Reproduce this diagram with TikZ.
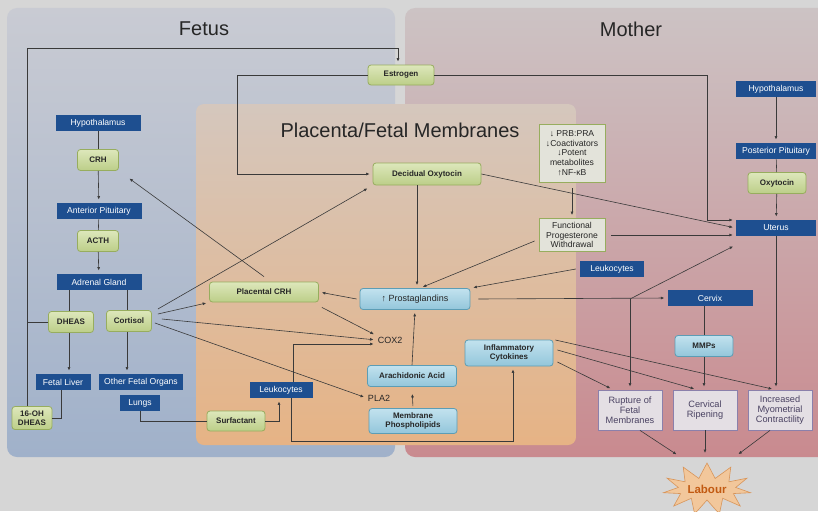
\documentclass[tikz,border=0pt]{standalone}
\usepackage{fontspec}
\setmainfont{Liberation Sans}
\usetikzlibrary{arrows.meta,shapes.symbols}
\definecolor{BgBase}{HTML}{D6D6D6}
\definecolor{FetusTop}{HTML}{C9CBD3}
\definecolor{FetusBot}{HTML}{A0B1CA}
\definecolor{MotherTop}{HTML}{CCC3C4}
\definecolor{MotherBot}{HTML}{C98A8F}
\definecolor{PlacTop}{HTML}{D5C7BD}
\definecolor{PlacBot}{HTML}{E6B385}
\definecolor{BoxBlue}{HTML}{1E4F90}
\definecolor{GreenTop}{HTML}{DDE7BB}
\definecolor{GreenBot}{HTML}{BCCE88}
\definecolor{GreenEdge}{HTML}{97AD5E}
\definecolor{CyanTop}{HTML}{C2E2EE}
\definecolor{CyanBot}{HTML}{93C6DB}
\definecolor{CyanEdge}{HTML}{5C9DB5}
\definecolor{NoteFill}{HTML}{E3E3DA}
\definecolor{OutFill}{HTML}{E4DFE4}
\definecolor{OutEdge}{HTML}{8B80AB}
\definecolor{OutText}{HTML}{4A4262}
\definecolor{TextDark}{HTML}{262626}
\definecolor{LineDark}{HTML}{3A3A3A}
\definecolor{StarFill}{HTML}{F2C79B}
\definecolor{StarEdge}{HTML}{D8955A}
\definecolor{StarText}{HTML}{C25A12}

\begin{document}
\begin{tikzpicture}[x=1pt, y=-1pt,
  lbl/.style={font=\fontsize{8.6}{9.6}\selectfont, align=center, inner sep=1pt, text=TextDark},
  bluebox/.style={lbl, fill=BoxBlue, text=white, minimum height=16.5pt},
  greenbox/.style={lbl, font=\fontsize{8}{9.2}\selectfont\bfseries, rounded corners=3pt,
    top color=GreenTop, bottom color=GreenBot, draw=GreenEdge, line width=0.8pt, minimum height=21pt},
  cyanbox/.style={lbl, font=\fontsize{8}{9.2}\selectfont\bfseries, rounded corners=3pt,
    top color=CyanTop, bottom color=CyanBot, draw=CyanEdge, line width=0.8pt, minimum height=21pt},
  notebox/.style={lbl, fill=NoteFill, draw=GreenEdge, line width=0.8pt, minimum width=66pt},
  outbox/.style={lbl, font=\fontsize{9.2}{10.2}\selectfont, fill=OutFill, draw=OutEdge, line width=0.8pt,
    text=OutText, minimum width=64pt, minimum height=40pt},
  arr/.style={draw=LineDark, line width=0.6pt, -{Latex[length=3.5pt,width=3pt]}, shorten >=3pt},
  ln/.style={draw=LineDark, line width=0.6pt}
]

  % Hintergrund und Bereiche
  \clip (0,0) rectangle (818,511);
  \fill[BgBase] (0,0) rectangle (818,511);
  \shade[top color=FetusTop, bottom color=FetusBot, rounded corners=10pt] (7,8) rectangle (395,457);
  \shade[top color=MotherTop, bottom color=MotherBot, rounded corners=10pt] (405,8) rectangle (830,457);
  \shade[top color=PlacTop, bottom color=PlacBot, rounded corners=8pt] (196,104) rectangle (576,445);

  % Titel
  \node[font=\fontsize{20}{22}\selectfont, text=TextDark] (tFetus) at (204,29) {Fetus};
  \node[font=\fontsize{20}{22}\selectfont, text=TextDark] (tMother) at (631,29) {Mother};
  \node[font=\fontsize{20}{22}\selectfont, text=TextDark] (tPlac) at (400,130) {Placenta/Fetal Membranes};

  % Fetus: Achse
  \node[bluebox, minimum width=85pt] (fHypo) at (98,123) {Hypothalamus};
  \node[greenbox, minimum width=41pt] (fCRH) at (98,160) {CRH};
  \node[bluebox, minimum width=85pt] (fAP) at (99,211) {Anterior Pituitary};
  \node[greenbox, minimum width=41pt] (fACTH) at (98,241) {ACTH};
  \node[bluebox, minimum width=85pt] (fAdrenal) at (99,282) {Adrenal Gland};
  \node[greenbox, minimum width=45pt] (DHEAS) at (71,322) {DHEAS};
  \node[greenbox, minimum width=45pt] (Cortisol) at (129,321) {Cortisol};
  \node[bluebox, minimum width=55pt] (FetalLiver) at (63,382) {Fetal Liver};
  \node[bluebox, minimum width=84pt] (OtherOrgans) at (141,382) {Other Fetal Organs};
  \node[bluebox, minimum width=40pt] (Lungs) at (140,403) {Lungs};
  \node[greenbox, minimum width=40pt, minimum height=23pt] (OHDHEAS) at (32,418) {16-OH\\DHEAS};
  \node[greenbox, minimum width=58pt, minimum height=20pt] (Surfactant) at (236,421) {Surfactant};
  \node[bluebox, minimum width=63pt] (fLeuko) at (281,390) {Leukocytes};

  % Plazenta / Eihaeute
  \node[greenbox, minimum width=66pt, minimum height=20pt] (Estrogen) at (401,75) {Estrogen};
  \node[greenbox, minimum width=108pt, minimum height=22pt] (DecOxy) at (427,174) {Decidual Oxytocin};
  \node[greenbox, minimum width=109pt, minimum height=20pt] (PlacCRH) at (264,292) {Placental CRH};
  \node[cyanbox, font=\fontsize{9}{10}\selectfont, minimum width=110pt] (Prosta) at (415,299) {↑ Prostaglandins};
  \node[lbl, font=\fontsize{9}{10}\selectfont] (COX2) at (390,340) {COX2};
  \node[lbl, font=\fontsize{9}{10}\selectfont] (PLA2) at (379,398) {PLA2};
  \node[cyanbox, minimum width=89pt] (Arach) at (412,376) {Arachidonic Acid};
  \node[cyanbox, minimum width=88pt, minimum height=25pt] (Membrane) at (413,421) {Membrane\\Phospholipids};
  \node[cyanbox, minimum width=88pt, minimum height=26pt] (Cytokines) at (509,353) {Inflammatory\\Cytokines};
  \node[notebox, minimum height=58pt] (Note) at (572,153) {↓ PRB:PRA\\↓Coactivators\\↓Potent\\metabolites\\↑NF-κB};
  \node[notebox, minimum height=33pt] (FPW) at (572,235) {Functional\\Progesterone\\Withdrawal};

  % Mutter
  \node[bluebox, minimum width=64pt] (mLeuko) at (612,269) {Leukocytes};
  \node[bluebox, minimum width=80pt] (mHypo) at (776,89) {Hypothalamus};
  \node[bluebox, minimum width=80pt] (PostPit) at (776,151) {Posterior Pituitary};
  \node[greenbox, minimum width=58pt] (Oxytocin) at (777,183) {Oxytocin};
  \node[bluebox, minimum width=80pt] (Uterus) at (776,228) {Uterus};
  \node[bluebox, minimum width=85pt] (Cervix) at (710,298) {Cervix};
  \node[cyanbox, minimum width=58pt] (MMPs) at (704,346) {MMPs};
  \node[outbox] (Rupture) at (630,410) {Rupture of\\Fetal\\Membranes};
  \node[outbox] (Ripening) at (705,410) {Cervical\\Ripening};
  \node[outbox] (Contract) at (780,410) {Increased\\Myometrial\\Contractility};
  \node[starburst, random starburst=0, starburst points=11, starburst point height=15pt,
    fill=StarFill, draw=StarEdge, line width=0.6pt, minimum width=62pt, minimum height=52pt,
    font=\fontsize{11.5}{12}\selectfont\bfseries, text=StarText, inner sep=1pt] (Labour) at (707,489) {Labour};

  % Hilfspunkte
  \coordinate (loopTL) at (27,48);
  \coordinate (lowRun) at (0,441);
  \coordinate (branch) at (Prosta.east -| Rupture.north);

  % Verbindungen Fetus
  \draw[arr] (OHDHEAS.north -| loopTL) -- (loopTL) -| ([xshift=-3pt]Estrogen.north);
  \draw[ln] (DHEAS.west) -- (DHEAS.west -| loopTL);
  \draw[ln] ([xshift=-2pt]FetalLiver.south) |- (OHDHEAS.east);
  \draw[ln] (fHypo) -- (fCRH);
  \draw[arr] (fCRH) -- (fAP);
  \draw[ln] (fAP) -- (fACTH);
  \draw[arr] (fACTH) -- (fAdrenal);
  \draw[ln] ([xshift=-2pt]fAdrenal.south -| DHEAS.north) -- ([xshift=-2pt]DHEAS.north);
  \draw[ln] ([xshift=-2pt]fAdrenal.south -| Cortisol.north) -- ([xshift=-2pt]Cortisol.north);
  \draw[arr] ([xshift=-2pt]DHEAS.south) -- ([xshift=-2pt]DHEAS.south |- FetalLiver.north);
  \draw[arr] ([xshift=-2pt]Cortisol.south) -- ([xshift=-2pt]Cortisol.south |- OtherOrgans.north);
  \draw[ln] (Lungs.south) |- (Surfactant.west);
  \draw[arr] (Surfactant.east) -| ([xshift=-2pt]fLeuko.south);
  \draw[arr] ([xshift=12pt]fLeuko.north) |- ([yshift=-4pt]COX2.west);
  \draw[arr] ([xshift=10pt]fLeuko.south) -- ([xshift=10pt]fLeuko.south |- lowRun) -| ([xshift=4pt]Cytokines.south);

  % Cortisol-Pfeile
  \draw[arr, shorten >=6pt] ([xshift=6pt,yshift=12pt]Cortisol.east) -- (DecOxy.south west);
  \draw[arr] ([xshift=6pt,yshift=7pt]Cortisol.east) -- (PlacCRH.south west);
  \draw[arr] ([xshift=10pt,yshift=2pt]Cortisol.east) -- (COX2.west);
  \draw[arr] ([xshift=3pt,yshift=-2pt]Cortisol.east) -- (PLA2.west);
  \draw[arr, shorten >=13pt] ([yshift=5pt]PlacCRH.north) -- (fCRH.south east);

  % Plazenta
  \draw[arr] (Estrogen.west) -- ++(-130,0) |- (DecOxy.west);
  \draw[arr] (Estrogen.east) -| ([xshift=-29pt,yshift=8pt]Uterus.west) -- ([yshift=8pt]Uterus.west);
  \draw[arr] (DecOxy.east) -- (Uterus.west);
  \draw[arr] ([xshift=-10pt]DecOxy.south) -- ([xshift=-10pt]DecOxy.south |- Prosta.north);
  \draw[arr, shorten <=6pt] (Note.south) -- (FPW.north);
  \draw[arr] ([xshift=6pt]FPW.east) -- ([yshift=-7pt]Uterus.west);
  \draw[arr] ([xshift=-4pt,yshift=-6pt]FPW.west) -- ([xshift=5pt]Prosta.north);
  \draw[arr] ([xshift=-4pt]mLeuko.west) -- (Prosta.north east);
  \draw[arr] ([xshift=-3pt]Prosta.west) -- (PlacCRH.east);
  \draw[arr] ([xshift=3pt,yshift=-5pt]PlacCRH.south east) -- (COX2.north west);
  \draw[arr, shorten >=7pt, shorten <=2pt] (Membrane.north) -- (Arach.south);
  \draw[arr] (Arach.north) -- (Prosta.south);

  % Mutter
  \draw[arr] ([xshift=8pt]Prosta.east) -- (Cervix.west);
  \draw[arr] (branch) -- ([yshift=-17pt]Uterus.west);
  \draw[arr] (branch) -- (Rupture.north);
  \draw[arr] (mHypo) -- (PostPit);
  \draw[ln] (PostPit) -- (Oxytocin);
  \draw[arr] (Oxytocin) -- (Uterus);
  \draw[arr] (Uterus.south) -- (Uterus.south |- Contract.north);
  \draw[ln] (Cervix.south -| MMPs.north) -- (MMPs.north);
  \draw[arr] (MMPs.south) -- (MMPs.south |- Ripening.north);
  \draw[arr] ([xshift=4pt,yshift=-9pt]Cytokines.east) -- ([xshift=-17pt]Rupture.north);
  \draw[arr] ([xshift=4pt,yshift=3pt]Cytokines.east) -- ([xshift=-8pt]Ripening.north);
  \draw[arr] ([xshift=2pt,yshift=13pt]Cytokines.east) -- ([xshift=-5pt]Contract.north);

  % Wehen
  \draw[arr] ([xshift=10pt]Rupture.south) -- ([shift={(-28,-33)}]Labour.center);
  \draw[arr] (Ripening.south) -- ([shift={(-2,-33)}]Labour.center);
  \draw[arr] ([xshift=-10pt]Contract.south) -- ([shift={(29,-33)}]Labour.center);

\end{tikzpicture}
\end{document}
